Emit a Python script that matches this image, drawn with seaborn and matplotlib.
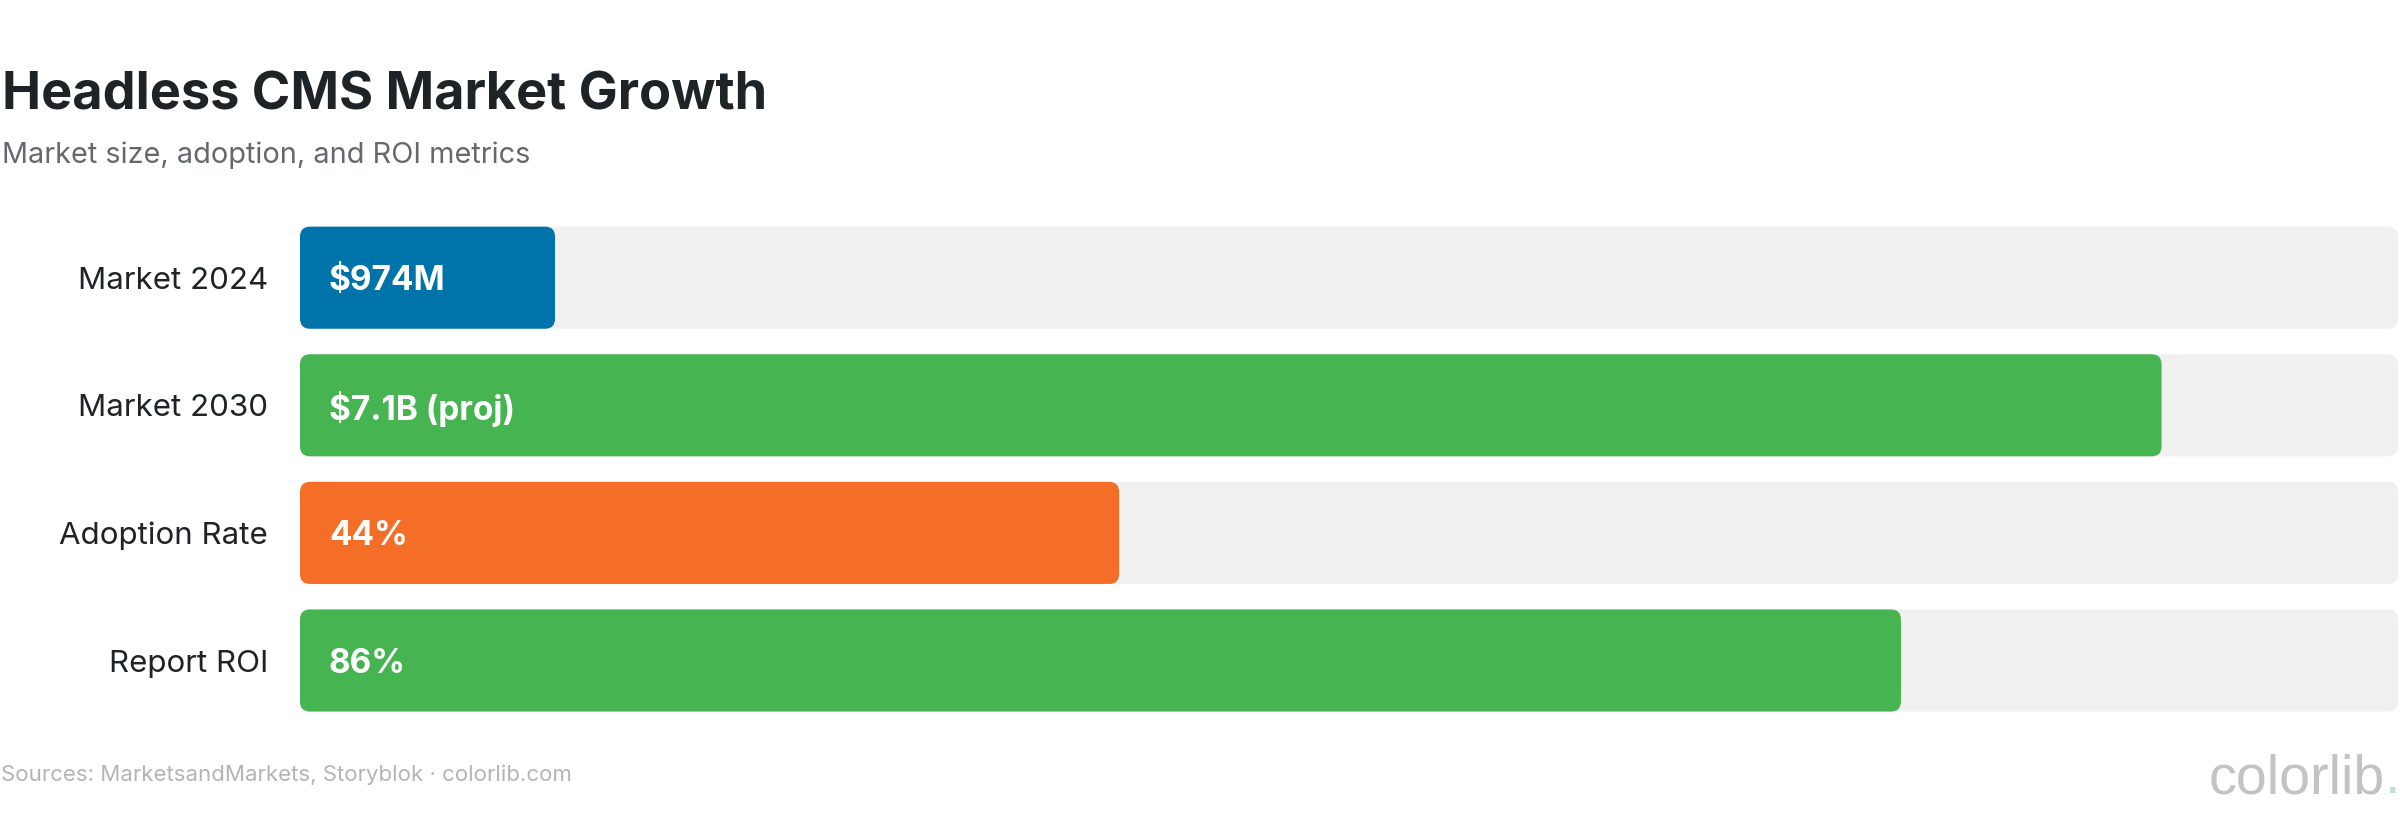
import matplotlib
matplotlib.use("Agg")
import matplotlib.pyplot as plt
import seaborn as sns
import pandas as pd
from matplotlib.patches import FancyBboxPatch

# ---- data ----
categories = ["Market 2024", "Market 2030", "Adoption Rate", "Report ROI"]
bar_values = [13.7, 100, 44, 86]          # bar length, % of scale
value_labels = ["$974M", "$7.1B (proj)", "44%", "86%"]
bar_colors = ["#0073aa", "#46b450", "#f56e28", "#46b450"]
track_max = 112.7                          # length of the grey track

title = "Headless CMS Market Growth"
subtitle = "Market size, adoption, and ROI metrics"
footer = "Sources: MarketsandMarkets, Storyblok \u00b7 colorlib.com"

# ---- style ----
sns.set_theme(style="white")
plt.rcParams["font.family"] = ["Inter", "DejaVu Sans"]

W, H = 2400, 830
fig = plt.figure(figsize=(W / 100, H / 100), dpi=100)
fig.patch.set_facecolor("white")
ax = fig.add_axes([300 / W, 1 - 724.3 / H, 2098 / W, 510.4 / H])

df = pd.DataFrame({"category": categories, "value": bar_values,
                   "track": [track_max] * len(categories)})

sns.barplot(data=df, x="track", y="category", color="#f0f0f0",
            saturation=1, width=0.8, ax=ax)
sns.barplot(data=df, x="value", y="category", hue="category",
            palette=dict(zip(categories, bar_colors)), saturation=1,
            width=0.8, legend=False, ax=ax)

ax.set_xlim(0, track_max)
ax.set_ylim(len(categories) - 0.5, -0.5)

# rounded corners
x_ppu = ax.bbox.width / track_max
y_ppu = ax.bbox.height / len(categories)
radius_px = 10
for k, p in enumerate(list(ax.patches)):
    x, y, w, h = p.get_x(), p.get_y(), p.get_width(), p.get_height()
    fc = p.get_facecolor()
    z = 1 if k < len(categories) else 2
    p.remove()
    ax.add_patch(FancyBboxPatch((x, y), w, h,
                                boxstyle=f"round,pad=0,rounding_size={radius_px / x_ppu}",
                                mutation_aspect=x_ppu / y_ppu,
                                facecolor=fc, edgecolor="none", zorder=z))

# value labels inside bars
for i, lbl in enumerate(value_labels):
    ax.annotate(lbl, xy=(0, i), xytext=(29 * 0.72, 0), textcoords="offset points",
                ha="left", va="center_baseline", color="white",
                fontsize=24, fontweight="bold", zorder=3)

# axes cosmetics
for s in ax.spines.values():
    s.set_visible(False)
ax.set_xlabel("")
ax.set_ylabel("")
ax.set_xticks([])
ax.tick_params(axis="y", length=0, pad=32 * 0.72, labelsize=22.5, labelcolor="#1d2327")

# titles & footer
fig.text(2 / W, 1 - 110 / H, title, fontsize=37.6, fontweight="bold",
         color="#1d2327", ha="left", va="baseline")
fig.text(2 / W, 1 - 163 / H, subtitle, fontsize=20.8, color="#646970",
         ha="left", va="baseline")
fig.text(1 / W, 1 - 781 / H, footer, fontsize=16, color="#b4b4b4",
         ha="left", va="baseline")

# logo
fig.text(2385 / W, 1 - 793 / H, "colorlib", fontsize=40,
         family=["Liberation Sans", "DejaVu Sans"], color="#c3c3c3",
         ha="right", va="baseline")
fig.text(2385 / W, 1 - 793 / H, ".", fontsize=40,
         family=["Liberation Sans", "DejaVu Sans"], color="#bfe4c3",
         ha="left", va="baseline")

fig.savefig("out.png", dpi=100, facecolor="white")
